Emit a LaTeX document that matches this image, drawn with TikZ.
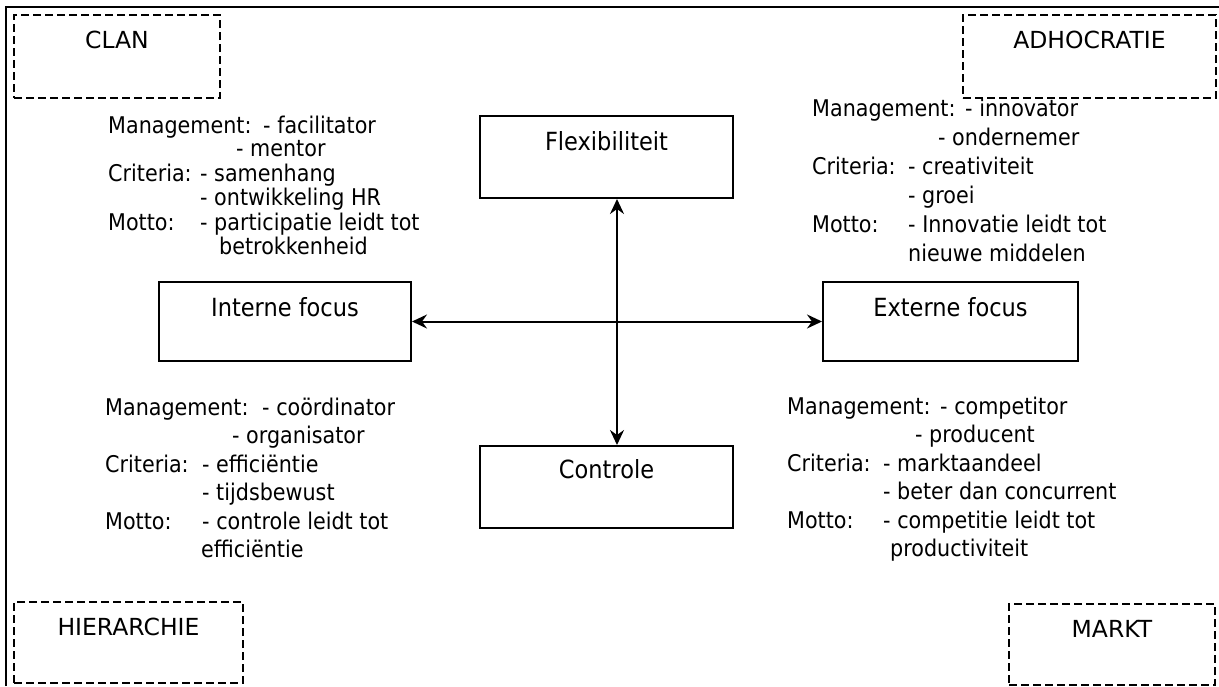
\documentclass[tikz,border=0pt]{standalone}
\usepackage{fontspec}
\setmainfont{DejaVu Sans}[FakeStretch=0.9]
\newfontfamily\capsfont{DejaVu Sans}
\usetikzlibrary{arrows.meta,calc}
\newcommand\mkrow[2]{\makebox[#1pt][l]{#2}}
\begin{document}
\begin{tikzpicture}[x=1pt,y=-1pt,
  every node/.style={inner sep=0pt, font=\fontsize{25}{28}\selectfont},
  box/.style={draw, line width=2pt, anchor=north west},
  dbox/.style={draw, line width=2pt, dash pattern=on 8pt off 4pt, anchor=north west},
  lbl/.style={anchor=base},
  clbl/.style={anchor=base, font=\capsfont\fontsize{23.5}{28}\selectfont},
  blk/.style={anchor=base west, font=\fontsize{23}{#1}\selectfont},
  arr/.style={line width=2pt, {Stealth[length=15pt,width=14pt,inset=5pt]}-{Stealth[length=15pt,width=14pt,inset=5pt]}},
  frame/.style={line width=2pt}]
\useasboundingbox (0,0) rectangle (1219,686);
% outer frame (top and left visible)
\draw[frame] (5.5,686) -- (5.5,7) -- (1219,7);
% dashed corner boxes
\node[dbox, minimum width=206pt, minimum height=83pt] (clan) at (13,14) {};
\node[clbl] (clanT) at ($(clan.north)+(0,34)$) {CLAN};
\node[dbox, minimum width=253pt, minimum height=83pt] (adho) at (962,14) {};
\node[clbl] (adhoT) at ($(adho.north)+(0,34)$) {ADHOCRATIE};
\node[dbox, minimum width=229pt, minimum height=81pt] (hier) at (13,601) {};
\node[clbl] (hierT) at ($(hier.north)+(0,34)$) {HIERARCHIE};
\node[dbox, minimum width=206pt, minimum height=81pt] (markt) at (1008,603) {};
\node[clbl] (marktT) at ($(markt.north)+(0,34)$) {MARKT};
% central boxes
\node[box, minimum width=253pt, minimum height=82pt] (flex) at (479,115) {};
\node[lbl] (flexT) at ($(flex.north)+(0,35)$) {Flexibiliteit};
\node[box, minimum width=253pt, minimum height=82pt] (ctrl) at (479,445) {};
\node[lbl] (ctrlT) at ($(ctrl.north)+(0,33)$) {Controle};
\node[box, minimum width=252pt, minimum height=79pt] (intern) at (158,281) {};
\node[lbl] (internT) at ($(intern.north)+(0,35)$) {Interne focus};
\node[box, minimum width=255pt, minimum height=79pt] (extern) at (822,281) {};
\node[lbl] (externT) at ($(extern.north)+(0,35)$) {Externe focus};
% connectors
\coordinate (vx) at (617,0);
\draw[arr] (flex.south -| vx) -- (ctrl.north -| vx);
\draw[arr] (intern.east) -- (extern.west);
% text blocks
\node[blk=23.5] (tl) at (108,133) {\begin{tabular}[t]{@{}l@{}}
\mkrow{155}{Management:}- facilitator\\
\hspace*{128pt}- mentor\\
\mkrow{92}{Criteria:}- samenhang\\
\hspace*{92pt}- ontwikkeling HR\\
\mkrow{92}{Motto:}- participatie leidt tot\\
\hspace*{111pt}betrokkenheid
\end{tabular}};
\node[blk=29] (tr) at (812,116) {\begin{tabular}[t]{@{}l@{}}
\mkrow{153}{Management:}- innovator\\
\hspace*{126pt}- ondernemer\\
\mkrow{96}{Criteria:}- creativiteit\\
\hspace*{96pt}- groei\\
\mkrow{96}{Motto:}- Innovatie leidt tot\\
\hspace*{96pt}nieuwe middelen
\end{tabular}};
\node[blk=28.5] (bl) at (105,415) {\begin{tabular}[t]{@{}l@{}}
\mkrow{157}{Management:}- coördinator\\
\hspace*{127pt}- organisator\\
\mkrow{97}{Criteria:}- efficiëntie\\
\hspace*{97pt}- tijdsbewust\\
\mkrow{97}{Motto:}- controle leidt tot\\
\hspace*{96pt}efficiëntie
\end{tabular}};
\node[blk=28.5] (br) at (787,414) {\begin{tabular}[t]{@{}l@{}}
\mkrow{153}{Management:}- competitor\\
\hspace*{128pt}- producent\\
\mkrow{96}{Criteria:}- marktaandeel\\
\hspace*{96pt}- beter dan concurrent\\
\mkrow{96}{Motto:}- competitie leidt tot\\
\hspace*{103pt}productiviteit
\end{tabular}};
\end{tikzpicture}
\end{document}
